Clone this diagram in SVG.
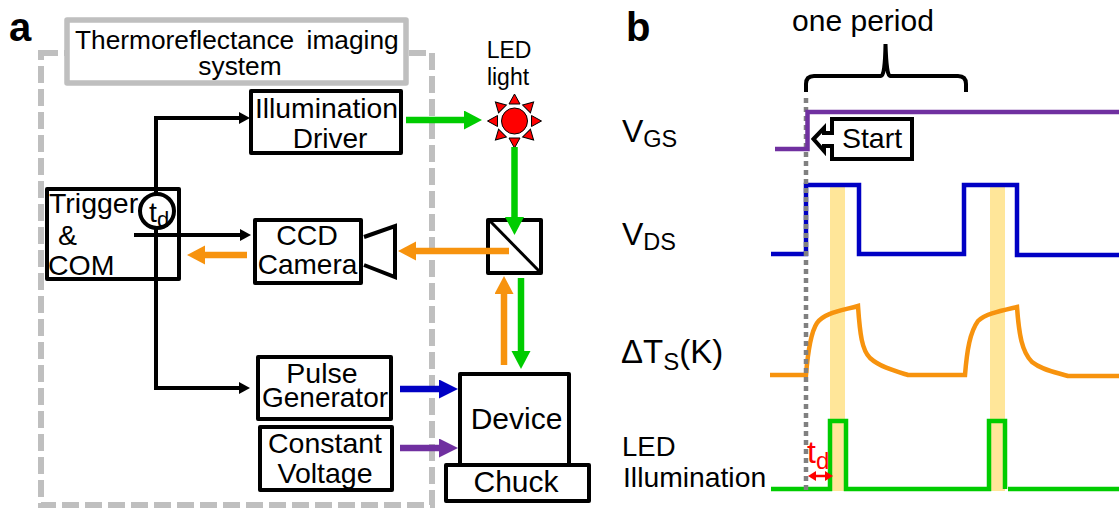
<svg xmlns="http://www.w3.org/2000/svg" width="1119" height="508" viewBox="0 0 1119 508">
<style>
text{font-family:"Liberation Sans",Arial,sans-serif;font-size:28.5px;fill:#000}
.m{text-anchor:middle}
.box{fill:#fff;stroke:#000;stroke-width:4;stroke-linejoin:round}
.k{fill:none;stroke:#000;stroke-width:4}
.ar{fill:none;stroke-width:6.5}
.w{fill:none;stroke-width:4.5}
.band{fill:#ffe699}
.ray{fill:#f00;stroke:#000;stroke-width:1}
</style>
<defs>
<marker id="hk" markerUnits="userSpaceOnUse" markerWidth="12" markerHeight="14" refX="0" refY="6" orient="auto"><path d="M0 0L11 6L0 12Z" fill="#000"/></marker>
<marker id="hg" markerUnits="userSpaceOnUse" markerWidth="20" markerHeight="20" refX="0" refY="9.5" orient="auto"><path d="M0 0L18 9.5L0 19Z" fill="#0c0"/></marker>
<marker id="ho" markerUnits="userSpaceOnUse" markerWidth="20" markerHeight="20" refX="0" refY="9.5" orient="auto"><path d="M0 0L18 9.5L0 19Z" fill="#f7930e"/></marker>
<marker id="hb" markerUnits="userSpaceOnUse" markerWidth="20" markerHeight="20" refX="0" refY="9.5" orient="auto"><path d="M0 0L19 9.5L0 19Z" fill="#0000c4"/></marker>
<marker id="hp" markerUnits="userSpaceOnUse" markerWidth="20" markerHeight="20" refX="0" refY="9.5" orient="auto"><path d="M0 0L19 9.5L0 19Z" fill="#7030a0"/></marker>
<marker id="hr" markerUnits="userSpaceOnUse" markerWidth="9" markerHeight="11" refX="0" refY="5" orient="auto-start-reverse"><path d="M0 0L8 5L0 10Z" fill="#f00"/></marker>
</defs>

<rect id="system-frame" x="41" y="53" width="391" height="452" fill="none" stroke="#bfbfbf" stroke-width="6" stroke-dasharray="17 6"/>
<g id="title"><rect x="67" y="20" width="339" height="63" fill="#fff" stroke="#bfbfbf" stroke-width="5.5" stroke-linejoin="round"/>
<text x="75" y="49" style="font-size:26.3px;word-spacing:5px">Thermoreflectance imaging</text>
<text x="240" y="75" class="m" style="font-size:26.3px">system</text></g>

<text x="9" y="41" style="font-size:40px;font-weight:bold">a</text>
<text x="626" y="41" style="font-size:40px;font-weight:bold">b</text>

<g id="illumination-driver"><rect class="box" x="251" y="91" width="150" height="62"/>
<text x="326.5" y="118" class="m" style="font-size:28.3px">Illumination</text><text x="330" y="148" class="m" style="font-size:28px">Driver</text></g>

<g id="trigger"><rect class="box" x="47" y="189" width="132" height="90"/>
<text x="49" y="213">Trigger</text><text x="58" y="245">&amp;</text><text x="48" y="275">COM</text></g>

<g id="ccd-camera"><rect class="box" x="255" y="220" width="106" height="63"/>
<text x="307" y="245" class="m">CCD</text><text x="307.5" y="274" class="m" style="font-size:28px">Camera</text>
<path d="M364 237L395 226V277L364 265" fill="none" stroke="#000" stroke-width="4"/></g>

<g id="pulse-generator"><rect class="box" x="258" y="357" width="133" height="62"/>
<text x="322" y="383" class="m">Pulse</text><text x="325" y="407" class="m" style="font-size:28px">Generator</text></g>

<g id="constant-voltage"><rect class="box" x="260" y="427" width="132" height="63"/>
<text x="325" y="453" class="m">Constant</text><text x="325" y="483" class="m">Voltage</text></g>

<g id="device"><rect class="box" x="460" y="374" width="109" height="92"/><text x="516.5" y="429" class="m" style="font-size:30px">Device</text></g>
<g id="chuck"><rect class="box" x="446" y="465" width="143" height="36"/><text x="516" y="492" class="m" style="font-size:30px">Chuck</text></g>

<g id="beam-splitter"><rect class="box" x="488" y="220" width="53" height="53"/><path d="M489 220L541 273" stroke="#000" stroke-width="3"/></g>

<g id="led"><text x="509" y="58" class="m" style="font-size:23px">LED</text><text x="508" y="85" class="m" style="font-size:23px">light</text>
<circle cx="514.5" cy="121" r="13" fill="#f00" stroke="#000" stroke-width="1"/>
<g transform="translate(514.5 121)">
<path class="ray" d="M-5.5 -17L0 -27L5.5 -17Z"/>
<path class="ray" d="M-5.5 -17L0 -27L5.5 -17Z" transform="rotate(45)"/>
<path class="ray" d="M-5.5 -17L0 -27L5.5 -17Z" transform="rotate(90)"/>
<path class="ray" d="M-5.5 -17L0 -27L5.5 -17Z" transform="rotate(135)"/>
<path class="ray" d="M-5.5 -17L0 -27L5.5 -17Z" transform="rotate(180)"/>
<path class="ray" d="M-5.5 -17L0 -27L5.5 -17Z" transform="rotate(225)"/>
<path class="ray" d="M-5.5 -17L0 -27L5.5 -17Z" transform="rotate(270)"/>
<path class="ray" d="M-5.5 -17L0 -27L5.5 -17Z" transform="rotate(315)"/>
</g></g>

<g id="connectors">
<path class="k" d="M156 195V118H239" marker-end="url(#hk)"/>
<path class="k" d="M134 235H240" marker-end="url(#hk)"/>
<path class="k" d="M156 229V388H239" marker-end="url(#hk)"/>
<path class="ar" stroke="#f7930e" d="M247 255H205" marker-end="url(#ho)"/>
<path class="ar" stroke="#f7930e" d="M509 251H416" marker-end="url(#ho)"/>
<path class="ar" stroke="#f7930e" d="M504 365V294" marker-end="url(#ho)"/>
<path class="ar" stroke="#0c0" d="M406 120H464" marker-end="url(#hg)"/>
<path class="ar" stroke="#0c0" d="M514.5 147V217" marker-end="url(#hg)"/>
<path class="ar" stroke="#0c0" d="M521 278V351" marker-end="url(#hg)"/>
<path class="ar" stroke="#0000c4" d="M400 389H439" marker-end="url(#hb)"/>
<path class="ar" stroke="#7030a0" d="M400 448H439" marker-end="url(#hp)"/>
</g>

<g id="td-delay"><circle cx="157" cy="211" r="17" fill="#fff" stroke="#000" stroke-width="4"/>
<text x="149" y="222">t<tspan dy="5" style="font-size:22px">d</tspan></text></g>

<g id="period"><text x="863" y="31" class="m" style="font-size:30px">one period</text>
<path d="M806 92V84Q806 76 814 76H881Q885 76 885.5 44Q886.500 76 890 76H958Q966 76 966 84V92" fill="none" stroke="#000" stroke-width="4"/></g>

<rect class="band" x="830" y="187" width="15" height="304"/>
<rect class="band" x="990" y="187" width="15" height="304"/>

<g id="waveforms">
<path class="w" stroke="#0000c4" d="M771 254H806V185H859V254H964V185H1017V255H1119"/>
<path class="w" stroke="#f7930e" d="M770 375H806C808 350 811 332 817 323C824 313 840 311 858 306C860 335 862 350 870 358C880 367 895 371 908 375H965C967 350 970 332 978 321C985 314 1000 311 1017 307C1019 335 1022 352 1032 362C1042 370 1055 372 1068 376H1119"/>
<path class="w" stroke="#0c0" d="M771 489H830V421H846V489H989V421H1005V489M1008 489H1119"/>
</g>
<path id="start-line" d="M806 98V490" fill="none" stroke="#808080" stroke-width="4.5" stroke-dasharray="5 4"/>
<path id="vgs-wave" class="w" stroke="#7030a0" d="M775 149H807.5V112H1119"/>

<g id="start-flag"><path d="M813.5 139L824 128V133H832V119H912V159H832V146H824V151Z" fill="#fff" stroke="#000" stroke-width="4"/>
<text x="872" y="148" class="m">Start</text></g>

<g id="delay-marker"><text x="807" y="463" style="fill:#f00;font-size:32px">t<tspan dy="6" style="font-size:24px;fill:#f00">d</tspan></text>
<path d="M816 476H825" stroke="#f00" stroke-width="2.5" fill="none" marker-start="url(#hr)" marker-end="url(#hr)"/></g>

<g id="labels">
<text x="622" y="142" style="font-size:32px">V<tspan dy="5" style="font-size:23.500px">GS</tspan></text>
<text x="622" y="245" style="font-size:32px">V<tspan dy="5" style="font-size:23.500px">DS</tspan></text>
<text x="621" y="363" style="font-size:33px">ΔT<tspan dy="7" style="font-size:24px">S</tspan><tspan dy="-7">(K)</tspan></text>
<text x="622" y="456" style="font-size:27.500px">LED</text>
<text x="623" y="487" style="font-size:28.300px">Illumination</text>
</g>
</svg>
